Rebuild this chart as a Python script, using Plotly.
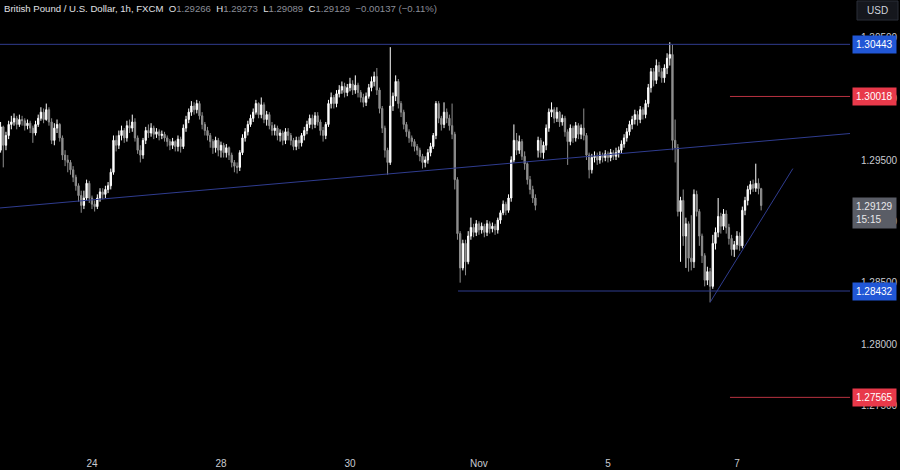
import plotly.graph_objects as go

# ---------------- data (GBP/USD, 1h, FXCM) ----------------
CLOSE = [
    1.2977, 1.2962, 1.2970, 1.2979, 1.2981, 1.2984, 1.2979, 1.2983, 1.2982, 1.2978,
    1.2980, 1.2976, 1.2972, 1.2979, 1.2984, 1.2989, 1.2983, 1.2991, 1.2981, 1.2966,
    1.2976, 1.2979, 1.2968, 1.2954, 1.2950, 1.2948, 1.2942, 1.2936, 1.2929, 1.2921,
    1.2913, 1.2919, 1.2931, 1.2919, 1.2914, 1.2912, 1.2919, 1.2924, 1.2922, 1.2926,
    1.2929, 1.2940, 1.2966, 1.2962, 1.2970, 1.2974, 1.2968, 1.2978, 1.2976, 1.2981,
    1.2968, 1.2958, 1.2954, 1.2966, 1.2974, 1.2972, 1.2976, 1.2971, 1.2973, 1.2970,
    1.2971, 1.2968, 1.2965, 1.2962, 1.2965, 1.2961, 1.2967, 1.2961, 1.2976, 1.2983,
    1.2989, 1.2994, 1.2991, 1.2996, 1.2986, 1.2979, 1.2974, 1.2970, 1.2965, 1.2960,
    1.2966, 1.2958, 1.2962, 1.2956, 1.2960, 1.2954, 1.2948, 1.2945, 1.2944, 1.2956,
    1.2968, 1.2973, 1.2979, 1.2984, 1.2989, 1.2996, 1.2987, 1.2995, 1.2983, 1.2987,
    1.2978, 1.2974, 1.2976, 1.2970, 1.2972, 1.2966, 1.2973, 1.2970, 1.2966, 1.2961,
    1.2966, 1.2964, 1.2970, 1.2974, 1.2979, 1.2984, 1.2979, 1.2986, 1.2981, 1.2974,
    1.2970, 1.2979, 1.2996, 1.3001, 1.2996, 1.3004, 1.3007, 1.3010, 1.3005, 1.3009,
    1.3012, 1.3007, 1.3011, 1.3005, 1.3001, 1.2997, 1.3002, 1.3009, 1.3014, 1.3018,
    1.3007, 1.2992, 1.2976, 1.2958, 1.2948, 1.2994, 1.3002, 1.3014, 1.2996, 1.2989,
    1.2979, 1.2973, 1.2968, 1.2965, 1.2961, 1.2958, 1.2953, 1.2948, 1.2950, 1.2956,
    1.2961, 1.2970, 1.2996, 1.2984, 1.2979, 1.2989, 1.2984, 1.2978, 1.2971, 1.2934,
    1.2890, 1.2862, 1.2882, 1.2867, 1.2888, 1.2895, 1.2891, 1.2898, 1.2893, 1.2896,
    1.2891, 1.2898, 1.2894, 1.2896, 1.2893, 1.2901, 1.2907, 1.2914, 1.2909, 1.2919,
    1.2950, 1.2966, 1.2958, 1.2965, 1.2953, 1.2947, 1.2934, 1.2926, 1.2919, 1.2913,
    1.2966, 1.2956, 1.2962, 1.2976, 1.2989, 1.2991, 1.2984, 1.2989, 1.2981, 1.2984,
    1.2973, 1.2965, 1.2976, 1.2968, 1.2978, 1.2971, 1.2976, 1.2970, 1.2954, 1.2942,
    1.2952, 1.2953, 1.2950, 1.2954, 1.2952, 1.2955, 1.2952, 1.2956, 1.2953, 1.2956,
    1.2958, 1.2963, 1.2968, 1.2973, 1.2979, 1.2983, 1.2987, 1.2983, 1.2991, 1.2987,
    1.2996, 1.3009, 1.3022, 1.3015, 1.3027, 1.3022, 1.3017, 1.3025, 1.3033, 1.3036,
    1.2966, 1.2960, 1.2908, 1.2917, 1.2888, 1.2898, 1.2870, 1.2867, 1.2922, 1.2908,
    1.2888, 1.2872, 1.2852, 1.2859, 1.2847, 1.2882, 1.2891, 1.2904, 1.2896, 1.2906,
    1.2895, 1.2886, 1.2877, 1.2881, 1.2888, 1.2880, 1.2909, 1.2917, 1.2926, 1.2930,
    1.2927, 1.2931, 1.29266, 1.29129,
]
HIGH = [
    1.2981, 1.2978, 1.2973, 1.2982, 1.2986, 1.2988, 1.2986, 1.2987, 1.2986, 1.2984,
    1.2983, 1.2982, 1.2978, 1.2982, 1.2987, 1.2993, 1.2992, 1.2996, 1.2993, 1.2984,
    1.2980, 1.2983, 1.2980, 1.2970, 1.2958, 1.2954, 1.2950, 1.2945, 1.2938, 1.2931,
    1.2925, 1.2925, 1.2934, 1.2933, 1.2921, 1.2917, 1.2922, 1.2927, 1.2927, 1.2929,
    1.2932, 1.2943, 1.2970, 1.2970, 1.2974, 1.2978, 1.2976, 1.2982, 1.2983, 1.2987,
    1.2984, 1.2970, 1.2962, 1.2968, 1.2977, 1.2979, 1.2980, 1.2978, 1.2976, 1.2975,
    1.2974, 1.2973, 1.2970, 1.2967, 1.2968, 1.2966, 1.2970, 1.2969, 1.2979, 1.2986,
    1.2992, 1.2998, 1.2997, 1.2999, 1.2998, 1.2989, 1.2981, 1.2977, 1.2972, 1.2967,
    1.2969, 1.2968, 1.2965, 1.2964, 1.2963, 1.2961, 1.2956, 1.2950, 1.2948, 1.2958,
    1.2971, 1.2976, 1.2982, 1.2987, 1.2992, 1.2999, 1.2997, 1.3001, 1.2997, 1.2990,
    1.2989, 1.2981, 1.2979, 1.2978, 1.2975, 1.2974, 1.2976, 1.2976, 1.2972, 1.2968,
    1.2969, 1.2969, 1.2972, 1.2977, 1.2982, 1.2987, 1.2987, 1.2989, 1.2989, 1.2983,
    1.2977, 1.2981, 1.2999, 1.3005, 1.3003, 1.3007, 1.3011, 1.3014, 1.3013, 1.3012,
    1.3017, 1.3015, 1.3019, 1.3013, 1.3007, 1.3004, 1.3005, 1.3012, 1.3018, 1.3022,
    1.3025, 1.3009, 1.2994, 1.2978, 1.2960, 1.3042, 1.3005, 1.3019, 1.3016, 1.2998,
    1.2991, 1.2981, 1.2975, 1.2970, 1.2967, 1.2963, 1.2960, 1.2955, 1.2953, 1.2959,
    1.2964, 1.2972, 1.2998, 1.2998, 1.2986, 1.2997, 1.2992, 1.2987, 1.2996, 1.2973,
    1.2936, 1.2892, 1.2885, 1.2885, 1.2892, 1.2903, 1.2898, 1.2901, 1.2900, 1.2899,
    1.2898, 1.2901, 1.2900, 1.2899, 1.2898, 1.2903, 1.2909, 1.2917, 1.2916, 1.2922,
    1.2953, 1.2979, 1.2972, 1.2970, 1.2967, 1.2957, 1.2948, 1.2937, 1.2929, 1.2922,
    1.2969, 1.2968, 1.2965, 1.2979, 1.2992, 1.2997, 1.2993, 1.2993, 1.2990, 1.2987,
    1.2986, 1.2975, 1.2979, 1.2978, 1.2981, 1.2980, 1.2979, 1.2992, 1.2972, 1.2956,
    1.2955, 1.2957, 1.2956, 1.2957, 1.2956, 1.2958, 1.2957, 1.2959, 1.2958, 1.2960,
    1.2961, 1.2966, 1.2971, 1.2976, 1.2982, 1.2986, 1.2991, 1.2990, 1.2994, 1.2993,
    1.2999, 1.3012, 1.3025, 1.3025, 1.3032, 1.3030, 1.3025, 1.3028, 1.3037, 1.3046,
    1.3044, 1.2983, 1.2963, 1.2920, 1.2926, 1.2903, 1.2900, 1.2905, 1.2926, 1.2925,
    1.2910, 1.2890, 1.2874, 1.2863, 1.2862, 1.2889, 1.2895, 1.2919, 1.2907, 1.2910,
    1.2909, 1.2898, 1.2889, 1.2884, 1.2892, 1.2891, 1.2912, 1.2920, 1.2929, 1.2933,
    1.2934, 1.2947, 1.2935, 1.29273,
]
LOW = [
    1.2956, 1.2944, 1.2958, 1.2967, 1.2975, 1.2978, 1.2975, 1.2977, 1.2978, 1.2974,
    1.2975, 1.2972, 1.2964, 1.2970, 1.2977, 1.2982, 1.2980, 1.2982, 1.2978, 1.2963,
    1.2962, 1.2972, 1.2965, 1.2950, 1.2945, 1.2940, 1.2938, 1.2932, 1.2925, 1.2916,
    1.2907, 1.2910, 1.2917, 1.2915, 1.2910, 1.2908, 1.2910, 1.2916, 1.2918, 1.2919,
    1.2923, 1.2926, 1.2938, 1.2957, 1.2959, 1.2966, 1.2964, 1.2965, 1.2972, 1.2973,
    1.2965, 1.2955, 1.2948, 1.2951, 1.2963, 1.2968, 1.2969, 1.2967, 1.2968, 1.2966,
    1.2967, 1.2965, 1.2961, 1.2958, 1.2959, 1.2957, 1.2957, 1.2956, 1.2959, 1.2973,
    1.2980, 1.2986, 1.2987, 1.2988, 1.2983, 1.2975, 1.2970, 1.2966, 1.2960, 1.2955,
    1.2956, 1.2953, 1.2952, 1.2952, 1.2952, 1.2950, 1.2944, 1.2940, 1.2939, 1.2941,
    1.2954, 1.2965, 1.2970, 1.2977, 1.2981, 1.2987, 1.2984, 1.2984, 1.2980, 1.2978,
    1.2975, 1.2970, 1.2970, 1.2966, 1.2965, 1.2962, 1.2963, 1.2966, 1.2962, 1.2958,
    1.2958, 1.2959, 1.2961, 1.2966, 1.2971, 1.2976, 1.2975, 1.2976, 1.2978, 1.2970,
    1.2965, 1.2967, 1.2977, 1.2992, 1.2992, 1.2993, 1.3001, 1.3004, 1.3001, 1.3002,
    1.3006, 1.3003, 1.3004, 1.3001, 1.2997, 1.2993, 1.2994, 1.3000, 1.3006, 1.3010,
    1.3003, 1.2988, 1.2972, 1.2952, 1.2938, 1.2946, 1.2990, 1.2998, 1.2992, 1.2985,
    1.2975, 1.2969, 1.2964, 1.2961, 1.2957, 1.2954, 1.2949, 1.2943, 1.2944, 1.2947,
    1.2953, 1.2959, 1.2967, 1.2980, 1.2974, 1.2976, 1.2980, 1.2974, 1.2967, 1.2926,
    1.2885, 1.2850, 1.2860, 1.2856, 1.2865, 1.2885, 1.2887, 1.2888, 1.2889, 1.2890,
    1.2887, 1.2888, 1.2890, 1.2891, 1.2889, 1.2890, 1.2898, 1.2905, 1.2905, 1.2907,
    1.2916, 1.2948, 1.2954, 1.2955, 1.2950, 1.2942, 1.2930, 1.2922, 1.2915, 1.2909,
    1.2952, 1.2952, 1.2951, 1.2958, 1.2973, 1.2985, 1.2980, 1.2981, 1.2977, 1.2978,
    1.2969, 1.2946, 1.2962, 1.2964, 1.2965, 1.2967, 1.2967, 1.2966, 1.2950, 1.2935,
    1.2939, 1.2948, 1.2946, 1.2947, 1.2948, 1.2949, 1.2948, 1.2949, 1.2950, 1.2950,
    1.2952, 1.2955, 1.2960, 1.2965, 1.2970, 1.2975, 1.2979, 1.2978, 1.2980, 1.2983,
    1.2984, 1.2993, 1.3005, 1.3010, 1.3012, 1.3018, 1.3013, 1.3013, 1.3020, 1.3027,
    1.2958, 1.2948, 1.2904, 1.2867, 1.2880, 1.2862, 1.2859, 1.2860, 1.2862, 1.2904,
    1.2880, 1.2866, 1.2847, 1.2848, 1.2834, 1.2845, 1.2877, 1.2887, 1.2890, 1.2893,
    1.2890, 1.2881, 1.2872, 1.2871, 1.2877, 1.2876, 1.2878, 1.2905, 1.2913, 1.2922,
    1.2924, 1.2924, 1.2922, 1.29089,
]
FIRST_OPEN = 1.2958
GAP_OPENS = {200: 1.2958}          # Monday open after the weekend gap
LAST_OPEN = 1.29266

DAY_TICK_BARS = [34, 82, 130, 178, 226, 274]
DAY_TICK_TEXT = ["24", "28", "30", "Nov", "5", "7"]

# horizontal levels: (price, first bar, line colour, label colour)
LEVELS = [
    (1.30443, -0.22, "#2f3c8f", "#2157d6"),
    (1.30018, 271.4, "#b83240", "#e8394a"),
    (1.28432, 170.2, "#2f3c8f", "#2157d6"),
    (1.27565, 271.4, "#b83240", "#e8394a"),
]
# trendlines: (bar0, price0, bar1, price1)
TRENDLINES = [
    (-0.22, 1.29109, 316.06, 1.29716),
    (264.0, 1.28340, 294.8, 1.29430),
]
LAST_PRICE = 1.29129
COUNTDOWN = "15:15"
HEADER_NAME = "British Pound / U.S. Dollar, 1h, FXCM"
HEADER_OHLC = [("O", "1.29266"), ("H", "1.29273"), ("L", "1.29089"), ("C", "1.29129")]
HEADER_CHANGE = "−0.00137 (−0.11%)"

X_RANGE = [-0.22, 316.06]
Y_RANGE = [1.2717663, 1.3080435]

# ---------------- build ----------------
n = len(CLOSE)
OPEN = [FIRST_OPEN] + CLOSE[:-1]
for k, v in GAP_OPENS.items():
    OPEN[k] = v
OPEN[-1] = LAST_OPEN
HI = [max(h, o, c) for h, o, c in zip(HIGH, OPEN, CLOSE)]
LO = [min(l, o, c) for l, o, c in zip(LOW, OPEN, CLOSE)]
bars = list(range(n))

FONT = "Liberation Sans"
UP = "#ffffff"
DOWN = "#8e8e8e"

fig = go.Figure()
fig.add_trace(go.Candlestick(
    x=bars, open=OPEN, high=HI, low=LO, close=CLOSE,
    increasing=dict(line=dict(color=UP, width=1), fillcolor=UP),
    decreasing=dict(line=dict(color=DOWN, width=1), fillcolor=DOWN),
    whiskerwidth=0, hoverinfo="skip", showlegend=False,
))

shapes = []
annotations = []
for price, x0, lc, bc in LEVELS:
    shapes.append(dict(type="line", xref="x", yref="y", x0=x0, x1=X_RANGE[1],
                       y0=price, y1=price, line=dict(color=lc, width=1)))
    annotations.append(dict(xref="paper", yref="y", x=1, y=price, xanchor="left",
                            yanchor="middle", xshift=2, text=f"{price:.5f}",
                            showarrow=False, bgcolor=bc, borderpad=3,
                            font=dict(family=FONT, size=10, color="#ffffff")))
for x0, y0, x1, y1 in TRENDLINES:
    shapes.append(dict(type="line", xref="x", yref="y", x0=x0, y0=y0, x1=x1, y1=y1,
                       line=dict(color="#2f3c8f", width=1)))

annotations.append(dict(xref="paper", yref="y", x=1, y=LAST_PRICE, xanchor="left",
                        yanchor="top", xshift=2, yshift=9,
                        text=f"{LAST_PRICE:.5f}<br>{COUNTDOWN}", align="left",
                        showarrow=False, bgcolor="#5a5d66", borderpad=3,
                        font=dict(family=FONT, size=10, color="#e8e8ea")))

hdr = HEADER_NAME + "&nbsp;&nbsp;" + "&nbsp;&nbsp;".join(
    f"{k}<span style='color:#8b8e98'>{v}</span>" for k, v in HEADER_OHLC
) + f"&nbsp;&nbsp;<span style='color:#8b8e98'>{HEADER_CHANGE}</span>"
annotations.append(dict(xref="paper", yref="paper", x=2 / 850, y=1 - 9 / 445,
                        xanchor="left", yanchor="middle", text=hdr, showarrow=False,
                        font=dict(family=FONT, size=9.6, color="#e0e1e5")))

# USD currency box
shapes.append(dict(type="rect", xref="paper", yref="paper",
                   x0=857 / 850, x1=898 / 850, y0=1 - 20 / 445, y1=1 - 1 / 445,
                   fillcolor="#15171d", line=dict(color="#2a2e39", width=1)))
annotations.append(dict(xref="paper", yref="paper", x=877 / 850, y=1 - 10 / 445,
                        xanchor="center", yanchor="middle", text="USD", showarrow=False,
                        font=dict(family=FONT, size=10, color="#d1d4dc")))

fig.update_layout(
    width=900, height=470,
    margin=dict(l=0, r=50, t=0, b=25),
    paper_bgcolor="#000000", plot_bgcolor="#000000",
    showlegend=False,
    shapes=shapes, annotations=annotations,
    xaxis=dict(range=X_RANGE, rangeslider=dict(visible=False),
               tickmode="array", tickvals=DAY_TICK_BARS, ticktext=DAY_TICK_TEXT,
               showgrid=False, zeroline=False, showline=False, ticks="",
               ticklabelstandoff=11,
               tickfont=dict(family=FONT, size=10, color="#c9cbd1")),
    yaxis=dict(range=Y_RANGE, side="right", tick0=1.275, dtick=0.005,
               tickformat=".5f", showgrid=False, zeroline=False, showline=False,
               ticks="", ticklabelstandoff=10,
               tickfont=dict(family=FONT, size=10, color="#c9cbd1")),
)

fig.write_html(
    "out.html",
    config={"displayModeBar": False, "staticPlot": True},
    post_script="document.body.style.margin='0';document.body.style.overflow='hidden';"
                "document.body.style.background='#000';",
)
